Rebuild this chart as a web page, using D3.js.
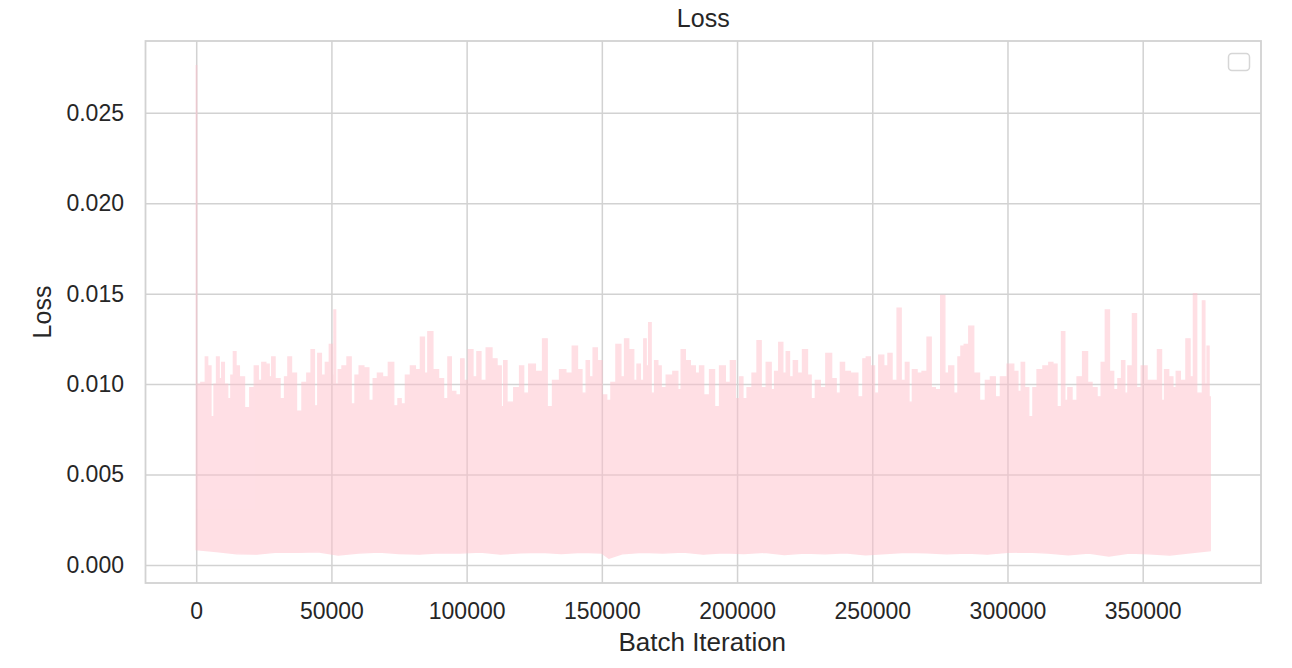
<!DOCTYPE html>
<html><head><meta charset="utf-8">
<script src="https://cdn.jsdelivr.net/npm/d3@7/dist/d3.min.js"></script>
<style>
body{margin:0;background:#fff}
text{font-family:"Liberation Sans",Arial,Helvetica,sans-serif;fill:#262626}
</style>
</head><body>
<svg id="chart" width="1292" height="668"></svg>
<script>
// ---- data ----
const title = "Loss";
const xLabel = "Batch Iteration";
const yLabel = "Loss";
const xTicks = [0, 50000, 100000, 150000, 200000, 250000, 300000, 350000];
const yTicks = [0.000, 0.005, 0.010, 0.015, 0.020, 0.025];

// upper contour of the (dense) loss curve: batch iteration / loss
const contourIter = [0,400,3000,3700,4800,6150,7000,8000,9000,9850,11000,12310,13300,14160,15300,16640,19100,20500,22420,23500,25000,26480,27500,28330,30000,32030,33300,34500,36000,38200,40000,41800,43130,44300,45600,47000,48500,49920,50700,51150,52000,53000,54800,56700,57920,59500,61000,63000,64700,66200,67800,70000,72100,74000,75200,76400,78300,80100,82000,83800,85000,86300,88750,90500,92450,93700,95000,97000,98600,99500,101700,103000,104600,106000,108460,110300,112200,113400,114000,115860,118950,120200,122000,123900,126950,129200,130400,133100,135600,137800,140300,141700,143600,144800,146000,147550,149150,151000,152600,154100,156300,157800,159000,160900,162700,163300,165200,165800,167000,167600,168900,170100,171300,172600,175000,177500,178700,179950,181800,183650,185500,186750,188600,191050,192300,194750,196600,198450,200300,201550,202800,204600,206450,208300,209550,212000,213250,214500,216300,217550,218800,220000,221600,223100,225300,226800,228000,229900,231700,233950,236000,237300,239100,240400,243450,245900,247150,248400,250200,251500,253300,255200,256400,258250,260100,261300,263150,264000,265650,267500,269300,271200,272400,274250,276350,277350,279200,281050,282300,283250,284750,286600,288450,290900,292750,294600,296450,298300,301400,303250,304450,305700,306950,308800,310000,311850,314350,316200,317400,319250,320700,321700,322950,324800,326650,328900,330350,332200,334050,335250,337100,338350,340200,341450,342900,343900,345150,347250,348200,350700,352550,354400,356500,357450,358700,360550,361800,363000,364850,367100,367950,369550,370400,371650,372500,373500,374100,375000];
const contourLoss = [0.0276,0.0100,0.0101,0.0115,0.0110,0.0082,0.0100,0.0115,0.0103,0.0112,0.0100,0.0092,0.0105,0.0118,0.0110,0.0104,0.0087,0.0098,0.0110,0.0102,0.0112,0.0111,0.0104,0.0115,0.0103,0.0092,0.0104,0.0115,0.0106,0.0085,0.0101,0.0106,0.0119,0.0088,0.0117,0.0105,0.0112,0.0122,0.0105,0.0141,0.0100,0.0108,0.0110,0.0115,0.0089,0.0105,0.0110,0.0109,0.0091,0.0103,0.0106,0.0104,0.0112,0.0088,0.0092,0.0089,0.0105,0.0110,0.0108,0.0126,0.0106,0.0129,0.0108,0.0103,0.0092,0.0115,0.0096,0.0094,0.0114,0.0102,0.0119,0.0104,0.0118,0.0102,0.0120,0.0114,0.0110,0.00875,0.0113,0.0090,0.0098,0.0110,0.0095,0.0111,0.0107,0.0125,0.00875,0.0102,0.0108,0.0106,0.0121,0.0108,0.0095,0.0113,0.0104,0.0120,0.0113,0.0094,0.0091,0.0101,0.0122,0.0104,0.0125,0.0119,0.0102,0.0111,0.0102,0.0125,0.0110,0.0134,0.0095,0.0113,0.0110,0.0098,0.0105,0.0107,0.0097,0.0119,0.0113,0.0110,0.0106,0.0110,0.0094,0.0108,0.00875,0.0110,0.0101,0.0113,0.0092,0.0104,0.0092,0.0098,0.0106,0.0124,0.0098,0.0112,0.0097,0.0107,0.0123,0.0106,0.0118,0.0104,0.0113,0.0106,0.0119,0.0105,0.0092,0.0102,0.0098,0.0117,0.0103,0.0095,0.0112,0.0107,0.0106,0.0093,0.0114,0.0115,0.0110,0.0095,0.0116,0.0110,0.0117,0.0102,0.0142,0.0102,0.0112,0.0090,0.0108,0.0106,0.0107,0.0126,0.0098,0.0097,0.0149,0.0106,0.0110,0.0095,0.0115,0.0121,0.0122,0.0132,0.0106,0.0091,0.0102,0.0104,0.0093,0.0104,0.0111,0.0107,0.0096,0.0112,0.0098,0.0082,0.0098,0.0108,0.0110,0.0112,0.0111,0.00875,0.0129,0.0091,0.0098,0.0091,0.0104,0.0118,0.0101,0.0098,0.0093,0.0112,0.0141,0.0107,0.0097,0.0103,0.0113,0.0095,0.0110,0.0139,0.0098,0.0110,0.0102,0.0102,0.0119,0.0091,0.0108,0.0104,0.0098,0.0107,0.0102,0.0125,0.0104,0.0150,0.0095,0.0095,0.0146,0.0100,0.0121,0.0093];

// lower contour of the loss curve
const floorIter = [0,7500,15000,22500,30000,37500,45000,52500,60000,67500,75000,82500,90000,97500,105000,112500,120000,127500,135000,142500,150000,152600,157500,165000,172500,180000,187500,195000,202500,210000,217500,225000,232500,240000,247500,255000,262500,270000,277500,285000,292500,300000,307500,315000,322500,330000,337500,345000,352500,360000,367500,375000];
const floorLoss = [0.00085,0.00075,0.00062,0.00060,0.00072,0.00070,0.00073,0.00055,0.00066,0.00072,0.00064,0.00060,0.00068,0.00066,0.00072,0.00060,0.00068,0.00070,0.00064,0.00070,0.00066,0.00037,0.00062,0.00070,0.00066,0.00072,0.00060,0.00068,0.00064,0.00070,0.00058,0.00066,0.00062,0.00068,0.00056,0.00064,0.00070,0.00068,0.00062,0.00066,0.00060,0.00070,0.00072,0.00066,0.00056,0.00066,0.00050,0.00066,0.00062,0.00055,0.00068,0.00080];

// ---- layout ----
const M = {left: 145.5, right: 1261, top: 41, bottom: 583};
const svg = d3.select("#chart");

const xMin = d3.min(contourIter), xMax = d3.max(contourIter);
const xPad = (xMax - xMin) * 0.05;
const x = d3.scaleLinear().domain([xMin - xPad, xMax + xPad]).range([M.left, M.right]);
const allLoss = contourLoss.concat(floorLoss);
const yMin = d3.min(allLoss), yMax = d3.max(allLoss);
const yPad = (yMax - yMin) * 0.05;
const y = d3.scaleLinear().domain([yMin - yPad, yMax + yPad]).range([M.bottom, M.top]);

const gridColor = "#d2d2d2";

// grid + ticks
const gx = svg.append("g").attr("transform", `translate(0,${M.bottom})`)
  .call(d3.axisBottom(x).tickValues(xTicks).tickFormat(d3.format("d"))
        .tickSize(-(M.bottom - M.top)).tickPadding(20));
gx.select(".domain").remove();
gx.selectAll(".tick line").attr("stroke", gridColor).attr("stroke-width", 1.5);
gx.selectAll(".tick text").attr("font-size", 23).attr("fill", "#262626");

const gy = svg.append("g").attr("transform", `translate(${M.left},0)`)
  .call(d3.axisLeft(y).tickValues(yTicks).tickFormat(d3.format(".3f"))
        .tickSize(-(M.right - M.left)).tickPadding(21.5));
gy.select(".domain").remove();
gy.selectAll(".tick line").attr("stroke", gridColor).attr("stroke-width", 1.5);
gy.selectAll(".tick text").attr("font-size", 23).attr("fill", "#262626");

// loss curve drawn as its filled envelope
svg.append("clipPath").attr("id", "plotClip")
  .append("rect").attr("x", M.left).attr("y", M.top)
  .attr("width", M.right - M.left).attr("height", M.bottom - M.top);

const upper = contourIter.map((it, i) => [it, contourLoss[i]]);
const lower = floorIter.map((it, i) => [it, floorLoss[i]]).reverse();
const upperPath = d3.line().x(d => x(d[0])).y(d => y(d[1])).curve(d3.curveStep)(upper);
const lowerPath = d3.line().x(d => x(d[0])).y(d => y(d[1]))(lower);
const ringPath = upperPath + "L" + lowerPath.slice(1) + "Z";

const curve = svg.append("g").attr("clip-path", "url(#plotClip)").attr("opacity", 0.5);
curve.append("path")
  .attr("d", ringPath)
  .attr("fill", "#ffc0cb")
  .attr("stroke", "#ffc0cb")
  .attr("stroke-width", 1.3)
  .attr("stroke-linejoin", "miter");

// frame (spines)
svg.append("rect").attr("x", M.left).attr("y", M.top)
  .attr("width", M.right - M.left).attr("height", M.bottom - M.top)
  .attr("fill", "none").attr("stroke", gridColor).attr("stroke-width", 1.8);

// empty legend box
svg.append("rect").attr("x", 1228.5).attr("y", 53.5).attr("width", 21).attr("height", 17)
  .attr("rx", 3.5).attr("fill", "#fff").attr("fill-opacity", 0.8)
  .attr("stroke", "#d6d6d6").attr("stroke-width", 1.5);

// texts
const cx = (M.left + M.right) / 2;
svg.append("text").attr("x", cx).attr("y", 27).attr("text-anchor", "middle")
  .attr("font-size", 25).text(title);
svg.append("text").attr("x", cx - 1).attr("y", 651).attr("text-anchor", "middle")
  .attr("font-size", 26).text(xLabel);
svg.append("text").attr("transform", `translate(51,${(M.top + M.bottom) / 2}) rotate(-90)`)
  .attr("text-anchor", "middle").attr("font-size", 25).text(yLabel);
</script>
</body></html>
